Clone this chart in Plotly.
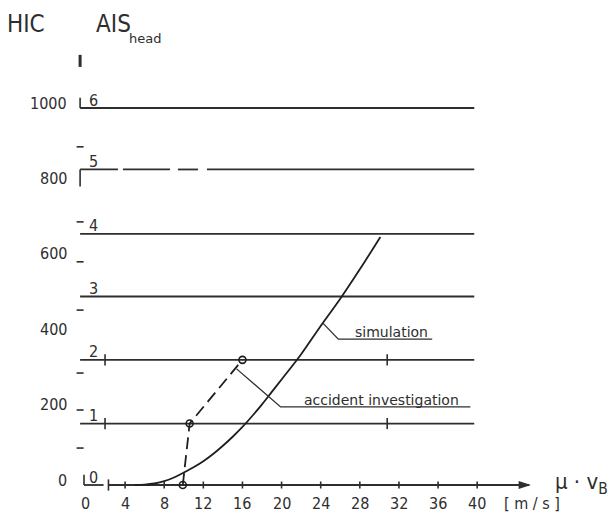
import plotly.graph_objects as go

# HIC value at which each head AIS level begins
ais_levels = [0, 1, 2, 3, 4, 5, 6]
ais_hic = [0, 163, 332, 500, 666, 837, 1000]

# HIC scale: labelled values and small intermediate marks
hic_ticks = [0, 200, 400, 600, 800, 1000]
hic_minor = [98, 199, 297, 464, 592, 698, 897]

# speed axis mu * vB in m/s
v_ticks = [0, 4, 8, 12, 16, 20, 24, 28, 32, 36, 40]

# simulation: HIC as a function of mu * vB
sim_v = [5, 6, 7, 8, 9, 10, 11, 12, 13, 14, 15, 16, 17, 18, 19, 20, 22, 24, 26, 28, 30.1]
sim_hic = [0, 1, 4, 10, 20, 33, 47, 63, 82, 104, 128, 154, 183, 214, 247, 280, 347, 422, 494, 572, 658]

# accident investigation: speed at which each AIS level was observed
acc_v = [9.9, 10.6, 16.0]
acc_hic = [0, 163, 332]

INK = "#2e2e2e"
NARROW = "Liberation Sans Narrow, DejaVu Sans Condensed, DejaVu Sans"
PLAIN = "DejaVu Sans"

X_LEFT, X_RIGHT = -0.6, 39.7  # extent of the AIS level lines
X_AXIS_END = 46.1

fig = go.Figure()


def seg(xs, ys, width=1.8, dash="solid", color=INK):
    fig.add_trace(go.Scatter(x=xs, y=ys, mode="lines", hoverinfo="skip",
                             line=dict(color=color, width=width, dash=dash)))


# AIS level lines 1..6 (level 5 starts with a broken stroke)
for lvl, h in zip(ais_levels, ais_hic):
    if lvl == 0:
        continue
    if lvl == 5:
        pieces = [(X_LEFT, 3.27), (3.78, 8.59), (9.4, 11.45), (12.37, X_RIGHT)]
        xs, ys = [], []
        for a, b in pieces:
            xs += [a, b, None]
            ys += [h, h, None]
        seg(xs, ys)
    else:
        seg([X_LEFT, X_RIGHT], [h, h])

# level 0 stub and the speed axis with its arrow head
seg([-0.2, 1.8], [ais_hic[0], ais_hic[0]])
seg([2.3, X_AXIS_END - 0.8], [0, 0])
fig.add_trace(go.Scatter(x=[X_AXIS_END - 0.6], y=[0], mode="markers", hoverinfo="skip",
                         marker=dict(symbol="arrow", angle=90, size=13, color=INK,
                                     line=dict(width=0))))

# left end strokes of the level lines
seg([X_LEFT, X_LEFT], [ais_hic[6], ais_hic[6] + 27], width=1.6)
seg([X_LEFT, X_LEFT], [ais_hic[5], ais_hic[5] - 45], width=1.6)
seg([-0.2, -0.2], [0, 27], width=1.6)
seg([X_LEFT, X_LEFT], [1109, 1141], width=3)

# small marks along the HIC scale
fig.add_trace(go.Scatter(x=[X_LEFT] * len(hic_minor), y=hic_minor, mode="markers",
                         hoverinfo="skip",
                         marker=dict(symbol="line-ew", size=5,
                                     line=dict(color=INK, width=1.6))))

# tick marks on the speed axis
fig.add_trace(go.Scatter(x=v_ticks[1:], y=[0] * (len(v_ticks) - 1), mode="markers",
                         hoverinfo="skip",
                         marker=dict(symbol="line-ns", size=5,
                                     line=dict(color=INK, width=1.6))))

# short cross strokes on levels 1 and 2
fig.add_trace(go.Scatter(x=[1.95, 1.95, 30.8, 30.8, 2.3],
                         y=[ais_hic[1], ais_hic[2], ais_hic[1], ais_hic[2], 0],
                         mode="markers", hoverinfo="skip",
                         marker=dict(symbol="line-ns", size=8,
                                     line=dict(color=INK, width=1.6))))

# simulation curve
fig.add_trace(go.Scatter(x=sim_v, y=sim_hic, mode="lines", hoverinfo="skip",
                         line=dict(color="#1e1e1e", width=1.8, shape="spline",
                                   smoothing=1.0)))

# accident investigation
fig.add_trace(go.Scatter(x=acc_v, y=acc_hic, mode="lines+markers", hoverinfo="skip",
                         line=dict(color="#1e1e1e", width=1.8, dash="12px,6px"),
                         marker=dict(symbol="circle-open", size=7,
                                     line=dict(color="#1e1e1e", width=1.6))))

# leader lines to the curve labels
seg([24.2, 25.8, 35.4], [430, 387, 387], width=1.3)
seg([15.4, 19.9, 39.3], [308, 207, 207], width=1.3)

label_font = dict(family=PLAIN, size=14, color=INK)
fig.add_annotation(x=31.2, y=387, xref="x", yref="y", text="simulation",
                   showarrow=False, yanchor="bottom", xanchor="center",
                   font=label_font, yshift=-3)
fig.add_annotation(x=30.2, y=207, xref="x", yref="y", text="accident investigation",
                   showarrow=False, yanchor="bottom", xanchor="center",
                   font=label_font, yshift=-3)

num_font = dict(family=NARROW, size=16, color=INK)

# HIC scale labels
for h in hic_ticks:
    fig.add_annotation(x=-1.7, y=h, xref="x", yref="y", text=str(h), showarrow=False,
                       xanchor="right", yanchor="middle", yshift=5, font=num_font)

# AIS level numbers
for lvl, h in zip(ais_levels, ais_hic):
    fig.add_annotation(x=0.75, y=h, xref="x", yref="y", text=str(lvl), showarrow=False,
                       xanchor="center", yanchor="middle", yshift=8, font=num_font)

# speed axis labels
for v in v_ticks:
    fig.add_annotation(x=v, y=0, xref="x", yref="y", text=str(v), showarrow=False,
                       xanchor="center", yanchor="middle", yshift=-18, font=num_font)
fig.add_annotation(x=45.6, y=0, xref="x", yref="y", text="[ m / s ]", showarrow=False,
                   xanchor="center", yanchor="middle", yshift=-18, font=num_font)

# axis titles
fig.add_annotation(x=47.8, y=0, xref="x", yref="y", text="μ · v<sub>B</sub>",
                   showarrow=False, xanchor="left", yanchor="middle", yshift=2,
                   font=dict(family=NARROW, size=22, color=INK))
fig.add_annotation(x=26 / 610, y=1 - 24 / 521, xref="paper", yref="paper", text="HIC",
                   showarrow=False, xanchor="center", yanchor="middle",
                   font=dict(family=NARROW, size=24, color=INK))
fig.add_annotation(x=94 / 610, y=1 - 24 / 521, xref="paper", yref="paper",
                   text="AIS", showarrow=False, xanchor="left", yanchor="middle",
                   font=dict(family=NARROW, size=24, color=INK))
fig.add_annotation(x=127 / 610, y=1 - 38 / 521, xref="paper", yref="paper",
                   text="head", showarrow=False, xanchor="left", yanchor="middle",
                   font=dict(family=PLAIN, size=13, color=INK))

fig.update_layout(
    width=610, height=521, autosize=False,
    margin=dict(l=0, r=0, t=0, b=0),
    paper_bgcolor="white", plot_bgcolor="white",
    showlegend=False,
    xaxis=dict(range=[-8.79, 53.58], visible=False, fixedrange=True),
    yaxis=dict(range=[-95.5, 1286.5], visible=False, fixedrange=True),
)

fig.write_html("out.html")
